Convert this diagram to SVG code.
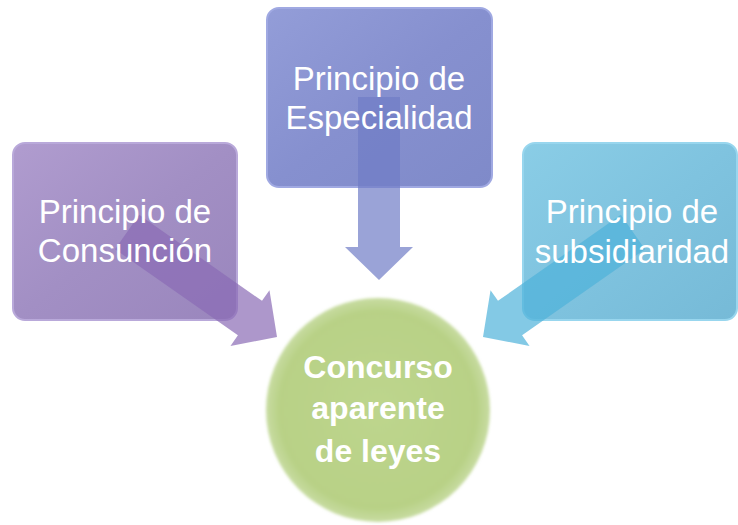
<svg xmlns="http://www.w3.org/2000/svg" width="738" height="525" viewBox="0 0 738 525">
<defs>
<style>
.lbl{font-family:"Liberation Sans",Arial,sans-serif;font-size:33px;fill:#ffffff;text-anchor:middle}
.ctr{font-family:"Liberation Sans",Arial,sans-serif;font-size:32px;font-weight:bold;fill:#ffffff;text-anchor:middle}
</style>
<linearGradient id="gP" x1="0" y1="0" x2="1" y2="1">
<stop offset="0" stop-color="#b09ccf"/><stop offset="0.5" stop-color="#a28fc4"/><stop offset="1" stop-color="#9a86bd"/>
</linearGradient>
<linearGradient id="gB" x1="0" y1="0" x2="1" y2="1">
<stop offset="0" stop-color="#939dd8"/><stop offset="0.5" stop-color="#8690cf"/><stop offset="1" stop-color="#7f8ac9"/>
</linearGradient>
<linearGradient id="gC" x1="0" y1="0" x2="1" y2="1">
<stop offset="0" stop-color="#8acde6"/><stop offset="0.5" stop-color="#7fc3df"/><stop offset="1" stop-color="#76bad7"/>
</linearGradient>
<radialGradient id="gG" cx="0.5" cy="0.5" r="0.5">
<stop offset="0" stop-color="#bdd58d"/><stop offset="0.88" stop-color="#b8d186"/><stop offset="1" stop-color="#c8dca2"/>
</radialGradient>
<filter id="soft" x="-10%" y="-10%" width="120%" height="120%">
<feGaussianBlur stdDeviation="1.5"/>
</filter>
<path id="arr" d="M-183,-21 L-33,-21 L-33,-34 L0,0 L-33,34 L-33,21 L-183,21 Z"/>
</defs>
<rect width="738" height="525" fill="#ffffff"/>
<g id="node-consuncion">
<rect x="13" y="143" width="224" height="177" rx="12" fill="url(#gP)" stroke="#b9a9da" stroke-width="2"/>
</g>
<g id="node-especialidad">
<rect x="267" y="8" width="225" height="179" rx="12" fill="url(#gB)" stroke="#a0a9e2" stroke-width="2"/>
</g>
<g id="node-subsidiaridad">
<rect x="523" y="143" width="214" height="177" rx="12" fill="url(#gC)" stroke="#98d6ee" stroke-width="2"/>
</g>
<g id="connectors">
<use href="#arr" transform="translate(277,337) rotate(35)" fill="#8a6bb5" fill-opacity="0.7"/>
<use href="#arr" transform="translate(379,280) rotate(90)" fill="#6f7cc6" fill-opacity="0.7"/>
<use href="#arr" transform="translate(483,337) rotate(145)" fill="#4fb2da" fill-opacity="0.7"/>
</g>
<g id="label-consuncion">
<text class="lbl" x="125" y="223">Principio de</text>
<text class="lbl" x="125" y="262">Consunción</text>
</g>
<g id="label-especialidad">
<text class="lbl" x="379" y="90">Principio de</text>
<text class="lbl" x="379" y="129">Especialidad</text>
</g>
<g id="label-subsidiaridad">
<text class="lbl" x="632" y="223">Principio de</text>
<text class="lbl" x="632" y="263">subsidiaridad</text>
</g>
<g id="node-concurso">
<circle cx="378" cy="410" r="112" fill="url(#gG)" filter="url(#soft)"/>
<text class="ctr" x="378" y="378">Concurso</text>
<text class="ctr" x="378" y="419">aparente</text>
<text class="ctr" x="378" y="462">de leyes</text>
</g>
</svg>
